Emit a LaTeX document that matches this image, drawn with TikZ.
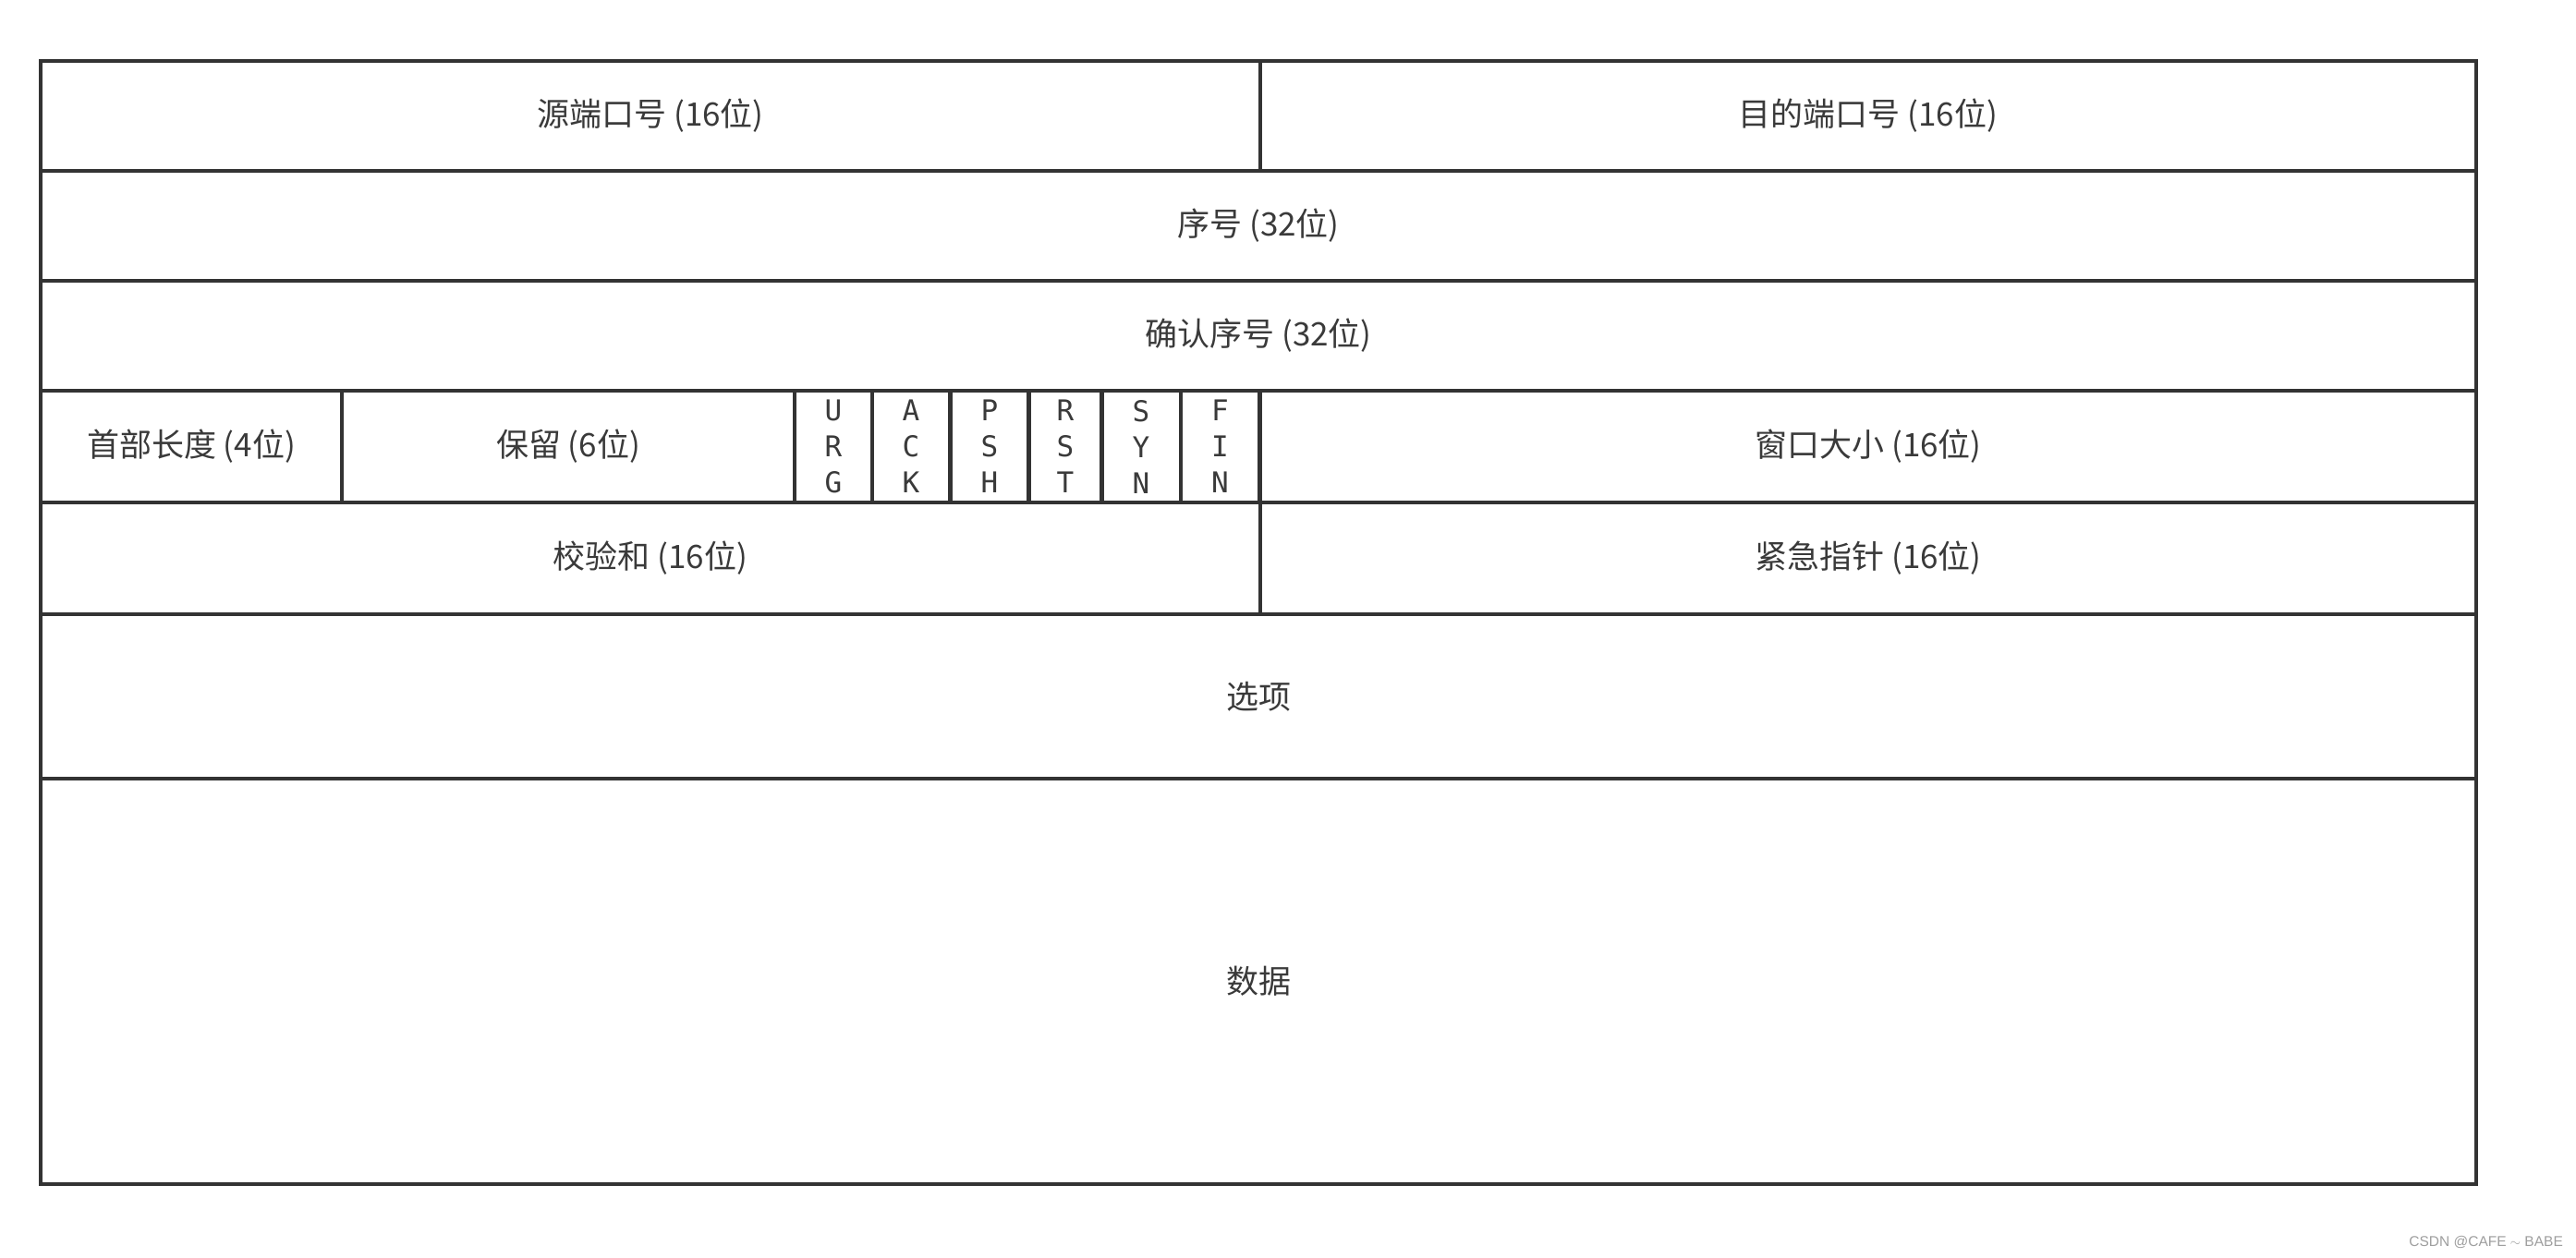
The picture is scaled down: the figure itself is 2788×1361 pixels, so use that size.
\documentclass[tikz,border=0pt]{standalone}
\usepackage{fontspec}
\setmainfont{Noto Sans CJK SC}
\newfontfamily\flagfont{DejaVu Sans Mono}
\newfontfamily\wmfont{Liberation Sans}
\definecolor{ink}{HTML}{333333}
\definecolor{txt}{HTML}{3A3A3A}
\begin{document}
\begin{tikzpicture}[x=1pt,y=-1pt,
  cell/.style={draw=ink, line width=4.5pt, inner sep=0pt, text=txt,
    font=\fontsize{35}{42}\selectfont},
  flag/.style={cell, align=center, font=\flagfont\fontsize{31}{39}\selectfont},
]
\useasboundingbox (0,0) rectangle (2788,1361);
\fill[white] (0,0) rectangle (2788,1361);
% row 1
\node[cell, minimum width=1320pt, minimum height=119pt] (src) at (704,125.5) {源端口号 (16位)};
\node[cell, minimum width=1316pt, minimum height=119pt] (dst) at (2022,125.5) {目的端口号 (16位)};
% row 2
\node[cell, minimum width=2636pt, minimum height=119pt] (seq) at (1362,244.5) {序号 (32位)};
% row 3
\node[cell, minimum width=2636pt, minimum height=119pt] (ack) at (1362,363.5) {确认序号 (32位)};
% row 4
\node[cell, minimum width=326pt, minimum height=121pt] (hlen) at (207,483.5) {首部长度 (4位)};
\node[cell, minimum width=490pt, minimum height=121pt] (rsv) at (615,483.5) {保留 (6位)};
\node[flag, minimum width=84pt, minimum height=121pt] (urg) at (902,483.5) {U\\R\\G};
\node[flag, minimum width=84pt, minimum height=121pt] (fack) at (986,483.5) {A\\C\\K};
\node[flag, minimum width=85pt, minimum height=121pt] (psh) at (1071,483.5) {P\\S\\H};
\node[flag, minimum width=79pt, minimum height=121pt] (rst) at (1153,483.5) {R\\S\\T};
\node[flag, minimum width=86pt, minimum height=121pt] (syn) at (1235,483.5) {S\\Y\\N};
\node[flag, minimum width=85pt, minimum height=121pt] (fin) at (1320.5,483.5) {F\\I\\N};
\node[cell, minimum width=1316pt, minimum height=121pt] (win) at (2022,483.5) {窗口大小 (16位)};
% row 5
\node[cell, minimum width=1320pt, minimum height=121pt] (chk) at (704,604.5) {校验和 (16位)};
\node[cell, minimum width=1316pt, minimum height=121pt] (urgp) at (2022,604.5) {紧急指针 (16位)};
% row 6
\node[cell, minimum width=2636pt, minimum height=178pt] (opt) at (1362,754) {选项};
% row 7
\node[cell, minimum width=2636pt, minimum height=439pt] (data) at (1362,1062.5) {数据};
% watermark
\node[text=gray!75, font=\wmfont\fontsize{15.5}{18}\selectfont, anchor=east, inner sep=0pt] (wm) at (2774,1345) {CSDN @CAFE $\sim$ BABE};
\end{tikzpicture}
\end{document}
